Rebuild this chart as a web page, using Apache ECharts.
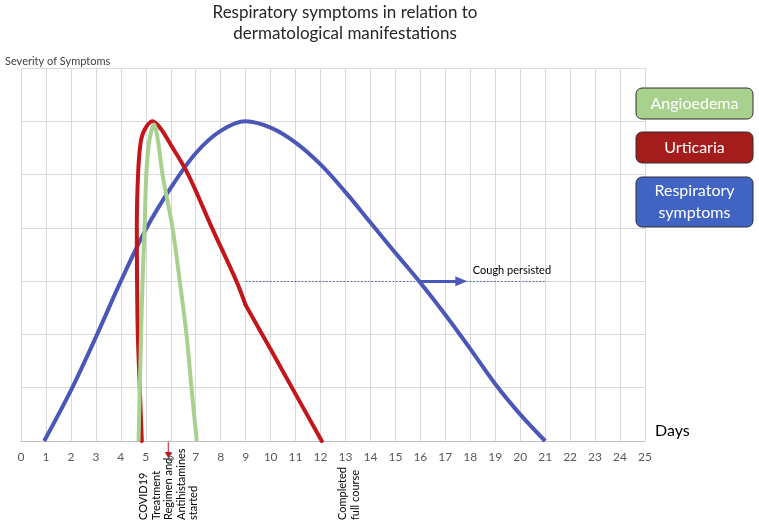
<!DOCTYPE html>
<html><head><meta charset="utf-8">
<script src="https://cdn.jsdelivr.net/npm/echarts@6/dist/echarts.min.js"></script>
<style>html,body{margin:0;padding:0;background:#fff}#c{width:759px;height:526px}</style>
</head><body><div id="c"></div>
<script>
const titleLines = ['Respiratory symptoms in relation to', 'dermatological manifestations'];
const yAxisTitle = 'Severity of Symptoms';
const xAxisTitle = 'Days';
const xTicks = [0,1,2,3,4,5,6,7,8,9,10,11,12,13,14,15,16,17,18,19,20,21,22,23,24,25];
const respX = [0.93,2,3,4,5,6,7,8,9,10,11,12,13,14,15,16,17,18,19,20,21];
const respY = [0,0.95,1.95,3.0,3.97,4.75,5.4,5.82,6,5.88,5.6,5.19,4.67,4.1,3.53,2.97,2.37,1.73,1.07,0.5,0];
const urtX = [4.84,4.76,4.68,4.65,4.64,4.69,4.79,4.95,5.27,5.6,6,6.7,7.65,8.63,9,10,11,12.05];
const urtY = [0,1,2,3,4,5,5.59,5.84,6,5.86,5.56,5,4,3,2.55,1.72,0.88,0];
const urtKinkIndex = 14; // sharp bend at day 9
const angX = [4.71,4.76,4.81,4.87,4.95,5.02,5.13,5.33,5.5,5.67,6.07,6.36,6.63,6.83,7.04];
const angY = [0,1,2,3,4,5,5.6,5.94,5.6,5,4,3,2,1,0];
const legendNames = ['Angioedema', 'Urticaria', 'Respiratory\nsymptoms'];
const cough = {fromX: 9, toX: 21, y: 3, arrowFrom: 16, arrowTo: 17.64, label: 'Cough persisted', labelX: 18.1};
const treatmentX = 5.9;
const treatmentText = ['COVID19', 'Treatment', 'Regimen and', 'Antihistamines', 'started'];
const completedText = ['Completed', 'full course'];

const BLUE = '#4a56b8', RED = '#c3161c', GREEN = '#a9d18e';
const FONT = 'Lato, "Open Sans", sans-serif';
const chart = echarts.init(document.getElementById('c'));
const zip = (a, b) => a.map((v, i) => [v, b[i]]);
const urt = zip(urtX, urtY);
const SM = 0.33;

const option = {
  animation: false,
  grid: {left: 21, right: 114, top: 68, bottom: 85},
  xAxis: {type: 'value', min: 0, max: 25, interval: 1,
    axisLine: {lineStyle: {color: '#bfbfbf', width: 1}}, axisTick: {show: false},
    axisLabel: {color: '#595959', fontSize: 12, margin: 10, fontFamily: FONT},
    splitLine: {show: true, lineStyle: {color: '#d9d9d9'}}},
  yAxis: {type: 'value', min: 0, max: 7, interval: 1, axisLabel: {show: false},
    axisLine: {show: false}, axisTick: {show: false},
    splitLine: {show: true, lineStyle: {color: '#d9d9d9'}}},
  series: [
    {type: 'line', name: 'Respiratory symptoms', data: zip(respX, respY), smooth: SM, symbol: 'none',
     lineStyle: {color: BLUE, width: 4}, z: 3,
     markLine: {silent: true, symbol: ['none', 'none'], label: {show: false},
       data: [
         [{coord: [cough.fromX, cough.y], lineStyle: {type: [1.5, 2], width: 1.2, color: BLUE}}, {coord: [cough.toX, cough.y]}],
       ]}},
    {type: 'line', name: 'Cough arrow', data: [], symbol: 'none',
     markLine: {silent: true, symbol: ['none', 'triangle'], symbolSize: [10, 12], label: {show: false},
       data: [[{coord: [cough.arrowFrom, cough.y], lineStyle: {type: 'solid', width: 3, color: BLUE}}, {coord: [cough.arrowTo, cough.y]}]]}},
    {type: 'line', name: 'Urticaria', data: urt.slice(0, urtKinkIndex + 1), smooth: SM, symbol: 'none',
     lineStyle: {color: RED, width: 4, cap: 'round'}, z: 4},
    {type: 'line', name: 'Urticaria', data: urt.slice(urtKinkIndex), smooth: SM, symbol: 'none',
     lineStyle: {color: RED, width: 4, cap: 'round'}, z: 4},
    {type: 'line', name: 'Angioedema', data: zip(angX, angY), smooth: SM, symbol: 'none',
     lineStyle: {color: GREEN, width: 4}, z: 5}
  ]
};
chart.setOption(option);

const px = (x, y) => chart.convertToPixel({gridIndex: 0}, [x, y]);
const g = [];
g.push({type: 'text', x: 345, y: 2, style: {text: titleLines.join('\n'), fontSize: 17, lineHeight: 21,
  fill: '#262626', fontFamily: FONT, textAlign: 'center'}});
g.push({type: 'text', x: 5, y: 56, style: {text: yAxisTitle, fontSize: 11, fill: '#404040', fontFamily: FONT}});
const axisEnd = px(25, 0);
g.push({type: 'text', x: axisEnd[0] + 10, y: axisEnd[1] - 18, style: {text: xAxisTitle, fontSize: 16, fill: '#000', fontFamily: FONT}});
const cl = px(cough.labelX, cough.y);
g.push({type: 'text', x: cl[0], y: cl[1] - 16, style: {text: cough.label, fontSize: 11, fill: '#000', fontFamily: FONT}});
const ta = px(treatmentX, 0);
g.push({type: 'line', shape: {x1: ta[0], y1: ta[1], x2: ta[0], y2: ta[1] + 12}, style: {stroke: RED, lineWidth: 1}});
g.push({type: 'polygon', shape: {points: [[ta[0] - 3.5, ta[1] + 11], [ta[0] + 3.5, ta[1] + 11], [ta[0], ta[1] + 17]]}, style: {fill: RED}});
function vtext(lines, startPx) {
  const lh = 12.5;
  lines.forEach((t, i) => {
    g.push({type: 'text', x: startPx + i * lh, y: 520, rotation: Math.PI / 2, originX: 0, originY: 0,
      style: {text: t, fontSize: 11, fill: '#000', fontFamily: FONT, textAlign: 'left', textVerticalAlign: 'top'}});
  });
}
vtext(treatmentText, 138);
vtext(completedText, 337);
const boxes = [
  {name: legendNames[0], fill: GREEN, y: 88, h: 31},
  {name: legendNames[1], fill: '#a51c1c', y: 132, h: 31},
  {name: legendNames[2], fill: '#4063c4', y: 177, h: 50}
];
boxes.forEach(b => {
  g.push({type: 'rect', shape: {x: 636, y: b.y, width: 117, height: b.h, r: 6},
    style: {fill: b.fill, stroke: '#2f2f2f', lineWidth: 1}});
  g.push({type: 'text', x: 694.5, y: b.y + b.h / 2, style: {text: b.name, fontSize: 16, lineHeight: 22, fill: '#fff',
    fontFamily: FONT, textAlign: 'center', textVerticalAlign: 'middle'}});
});
chart.setOption({graphic: g});
</script></body></html>
